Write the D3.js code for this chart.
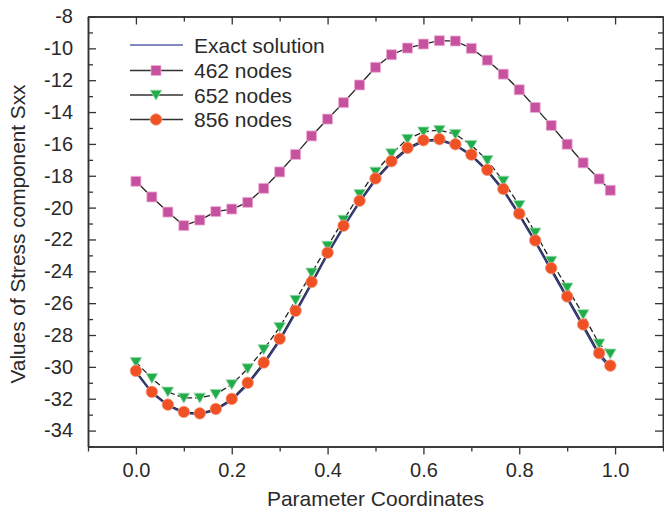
<!DOCTYPE html>
<html>
<head>
<meta charset="utf-8">
<script src="https://cdn.jsdelivr.net/npm/d3@7"></script>
<style>
body { margin: 0; background: #fff; }
svg text { font-family: "Liberation Sans", Arial, sans-serif; fill: #2a2a2a; }
</style>
</head>
<body>
<svg class="chart"></svg>
<script>
// parameter coordinates (same for every series)
const xs = [0, 0.0333, 0.0667, 0.1, 0.1333, 0.1667, 0.2, 0.2333, 0.2667, 0.3, 0.3333,
  0.3667, 0.4, 0.4333, 0.4667, 0.5, 0.5333, 0.5667, 0.6, 0.6333, 0.6667,
  0.7, 0.7333, 0.7667, 0.8, 0.8333, 0.8667, 0.9, 0.9333, 0.9667, 0.99]

const exact = [-30.35, -31.65, -32.45, -32.9, -32.98, -32.72, -32.1, -31.12, -29.85, -28.38, -26.62,
  -24.8, -22.95, -21.25, -19.68, -18.28, -17.2, -16.35, -15.85, -15.78, -16.1,
  -16.75, -17.72, -18.95, -20.5, -22.18, -23.95, -25.72, -27.5, -29.3, -30.05]

const n462 = [-18.35, -19.33, -20.28, -21.13, -20.78, -20.25, -20.09, -19.67, -18.79, -17.76, -16.66,
  -15.5, -14.44, -13.41, -12.3, -11.19, -10.4, -9.98, -9.73, -9.52, -9.54,
  -10.0, -10.74, -11.62, -12.6, -13.71, -14.84, -16.02, -17.19, -18.2, -18.91]

const n652 = [-29.71, -30.72, -31.57, -31.95, -31.95, -31.72, -31.11, -30.11, -28.91, -27.51, -25.81,
  -24.1, -22.41, -20.78, -19.17, -17.76, -16.61, -15.7, -15.24, -15.14, -15.39,
  -16.08, -17.03, -18.33, -19.86, -21.58, -23.36, -25.03, -26.71, -28.55, -29.18]

const n856 = [-30.25, -31.57, -32.37, -32.83, -32.92, -32.64, -32.01, -31.0, -29.73, -28.24, -26.48,
  -24.67, -22.83, -21.14, -19.57, -18.17, -17.09, -16.25, -15.77, -15.7, -16.02,
  -16.67, -17.63, -18.83, -20.38, -22.06, -23.8, -25.58, -27.34, -29.14, -29.92]

const xTicks = [0, 0.2, 0.4, 0.6, 0.8, 1.0]
const xMinor = [-0.1, 0.1, 0.3, 0.5, 0.7, 0.9, 1.1]
const yTicks = [-34, -32, -30, -28, -26, -24, -22, -20, -18, -16, -14, -12, -10, -8]
const yMinor = [-35, -33, -31, -29, -27, -25, -23, -21, -19, -17, -15, -13, -11, -9]

const legendNames = ["Exact solution", "462 nodes", "652 nodes", "856 nodes"]

const W = 664, H = 513
const pLeft = 88, pRight = 663, pTop = 16.5, pBottom = 446.5

const svg = d3.select(".chart").attr("width", W).attr("height", H)

const x = d3.scaleLinear().domain([-0.1, 1.1]).range([pLeft, pRight])
const y = d3.scaleLinear().domain([-35, -8]).range([pBottom, pTop])

const axisColor = "#333"
const fmt = d3.format(".1f")

function styleAxis(g) {
  g.selectAll("path.domain").attr("stroke", axisColor).attr("stroke-width", 1.5)
  g.selectAll(".tick line").attr("stroke", axisColor).attr("stroke-width", 1.3)
  g.selectAll(".tick text").attr("font-size", 20).style("fill", "#2a2a2a")
}

// bottom axis, ticks outward
svg.append("g").attr("transform", `translate(0,${pBottom})`)
  .call(d3.axisBottom(x).tickValues(xTicks).tickFormat(fmt).tickSize(8).tickSizeOuter(0).tickPadding(8))
  .call(styleAxis)
svg.append("g").attr("transform", `translate(0,${pBottom})`)
  .call(d3.axisBottom(x).tickValues(xMinor).tickFormat("").tickSize(5).tickSizeOuter(0))
  .call(styleAxis)

// top axis, ticks inward
svg.append("g").attr("transform", `translate(0,${pTop})`)
  .call(d3.axisTop(x).tickValues(xTicks).tickFormat("").tickSize(-8).tickSizeOuter(0))
  .call(styleAxis)
svg.append("g").attr("transform", `translate(0,${pTop})`)
  .call(d3.axisTop(x).tickValues(xMinor).tickFormat("").tickSize(-5).tickSizeOuter(0))
  .call(styleAxis)

// left axis, ticks inward, plain hyphen for the sign
svg.append("g").attr("transform", `translate(${pLeft},0)`)
  .call(d3.axisLeft(y).tickValues(yTicks).tickFormat(d => String(d)).tickSize(-8).tickSizeOuter(0).tickPadding(15))
  .call(styleAxis)
svg.append("g").attr("transform", `translate(${pLeft},0)`)
  .call(d3.axisLeft(y).tickValues(yMinor).tickFormat("").tickSize(-5).tickSizeOuter(0))
  .call(styleAxis)

// right axis, ticks inward
svg.append("g").attr("transform", `translate(${pRight},0)`)
  .call(d3.axisRight(y).tickValues(yTicks).tickFormat("").tickSize(-8).tickSizeOuter(0))
  .call(styleAxis)
svg.append("g").attr("transform", `translate(${pRight},0)`)
  .call(d3.axisRight(y).tickValues(yMinor).tickFormat("").tickSize(-5).tickSizeOuter(0))
  .call(styleAxis)

// axis titles
svg.append("text")
  .attr("x", (pLeft + pRight) / 2).attr("y", 506)
  .attr("text-anchor", "middle").attr("font-size", 21)
  .text("Parameter Coordinates")

svg.append("text")
  .attr("transform", `translate(25,234) rotate(-90)`)
  .attr("text-anchor", "middle").attr("font-size", 20.8)
  .text("Values of Stress component Sxx")

// series
const series = [
  {name: legendNames[0], vals: exact, line: "#353a85", width: 1.7, dash: null, mark: null},
  {name: legendNames[1], vals: n462, line: "#222", width: 1.3, dash: null, mark: "square", fill: "#c6519e", stroke: "#eeb0d8"},
  {name: legendNames[2], vals: n652, line: "#222", width: 1.3, dash: "6,3", mark: "triangle", fill: "#21ad4b", stroke: "#9fdcae"},
  {name: legendNames[3], vals: n856, line: "#222", width: 1.3, dash: null, mark: "circle", fill: "#ef5124", stroke: "#f7a080"}
]

const lineGen = d3.line().x(d => x(d[0])).y(d => y(d[1]))

const sym = {
  square: d3.symbol(d3.symbolSquare, 100),
  circle: d3.symbol(d3.symbolCircle, 105)
}
function markPath(kind) {
  if (kind == "triangle") return "M-5.8,-4.8L5.8,-4.8L0,5.2Z"
  return sym[kind]()
}

// node lines first, exact on top of them, markers last
const drawOrder = [series[1], series[2], series[3], series[0]]
drawOrder.forEach(s => {
  svg.append("path")
    .attr("d", lineGen(xs.map((v, i) => [v, s.vals[i]])))
    .attr("fill", "none")
    .attr("stroke", s.line)
    .attr("stroke-width", s.width)
    .attr("stroke-dasharray", s.dash)
})

series.filter(s => s.mark).forEach(s => {
  svg.append("g").selectAll("path")
    .data(xs.map((v, i) => [v, s.vals[i]]))
    .enter()
    .append("path")
    .attr("transform", d => `translate(${x(d[0])},${y(d[1])})`)
    .attr("d", markPath(s.mark))
    .attr("fill", s.fill)
    .attr("stroke", s.stroke)
    .attr("stroke-width", 0.8)
})

// legend
const legY = [45, 70.5, 95, 119.5]
const leg = svg.append("g")
series.forEach((s, i) => {
  leg.append("line")
    .attr("x1", 130).attr("x2", 183)
    .attr("y1", legY[i]).attr("y2", legY[i])
    .attr("stroke", i == 0 ? "#5a62aa" : "#333")
    .attr("stroke-width", 1.3)
  if (s.mark) {
    leg.append("path")
      .attr("transform", `translate(156,${legY[i]})`)
      .attr("d", markPath(s.mark))
      .attr("fill", s.fill)
      .attr("stroke", s.stroke)
      .attr("stroke-width", 0.8)
  }
  leg.append("text")
    .attr("x", 194).attr("y", legY[i])
    .attr("dy", "0.36em")
    .attr("font-size", 21)
    .text(s.name)
})
</script>
</body>
</html>
